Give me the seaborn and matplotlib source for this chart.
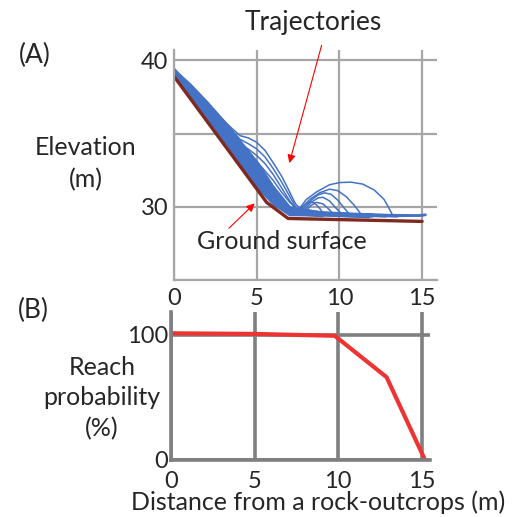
import numpy as np
import matplotlib
matplotlib.use("Agg")
import matplotlib.pyplot as plt
import pandas as pd
import seaborn as sns

# ground profile of the slope (m)
ground_x = [0, 5.6, 6.9, 15.0]
ground_y = [38.9, 30.3, 29.2, 29.0]

# rolling trajectories along the slope (dense band)
band_x = [
    [0, 1, 2, 3, 4, 5, 6, 7, 8, 9],
    [0, 1, 2, 3, 4, 5, 6, 7, 8, 10, 11],
    [0, 1, 2, 3, 4, 5, 6, 7, 8, 9.5, 12],
    [0, 1, 2, 3, 4, 5, 6, 7, 8, 10, 12.5],
    [0, 1, 2, 3, 4, 5, 6, 7, 8, 11, 13.5],
    [0, 1, 2, 3, 4, 5, 6, 7, 8, 10.5, 14.8, 15.2],
    [0, 1, 2, 3, 4, 5, 6, 7, 8, 9, 11.5],
    [0, 1, 2, 3, 4, 5, 6, 7, 8, 10, 12],
    [0, 1, 2, 3, 4, 5, 6, 7, 8, 12.8],
    [0, 1, 2, 3, 4, 5, 6, 7, 8, 10.8],
    [0, 1, 2, 3, 4, 5, 6, 7, 8, 9, 11, 13.2],
    [0, 1, 2, 3, 4, 5, 6, 7, 8, 11.8],
]
band_y = [
    [39.2, 37.56, 36.03, 34.49, 32.96, 31.42, 30.21, 29.45, 29.43, 29.38],
    [39.25, 37.71, 36.23, 34.69, 33.21, 31.67, 30.36, 29.55, 29.48, 29.4, 29.36],
    [39.3, 37.86, 36.38, 34.89, 33.41, 31.92, 30.51, 29.65, 29.53, 29.45, 29.35],
    [39.35, 37.96, 36.53, 35.09, 33.61, 32.12, 30.66, 29.7, 29.58, 29.5, 29.4],
    [39.4, 38.06, 36.68, 35.24, 33.81, 32.32, 30.81, 29.75, 29.63, 29.45, 29.35],
    [39.35, 38.16, 36.83, 35.39, 33.96, 32.52, 30.96, 29.8, 29.58, 29.45, 29.4, 29.45],
    [39.3, 38.21, 36.93, 35.54, 34.11, 32.67, 31.06, 29.85, 29.68, 29.55, 29.4],
    [39.25, 38.26, 37.03, 35.69, 34.26, 32.82, 31.16, 29.9, 29.63, 29.5, 29.45],
    [39.2, 38.11, 36.88, 35.49, 34.06, 32.57, 31.01, 29.8, 29.58, 29.35],
    [39.3, 38.01, 36.63, 35.19, 33.76, 32.22, 30.76, 29.75, 29.53, 29.4],
    [39.35, 38.31, 37.13, 35.84, 34.46, 33.07, 31.36, 29.95, 29.73, 29.6, 29.5, 29.4],
    [39.25, 37.91, 36.43, 34.94, 33.46, 31.97, 30.56, 29.65, 29.48, 29.3],
]

# trajectories flying off the slope
fly_x = [
    [0, 1, 2, 3, 3.5, 4, 4.5, 5, 5.5, 6, 6.5, 6.8, 7.1, 7.35, 7.6, 9, 11],
    [0, 1, 2, 3, 4, 4.5, 5, 5.5, 6, 6.5, 7, 7.35],
    [0, 1, 2, 3, 3.5, 4, 5, 5.5, 6, 6.5, 7, 7.3],
    [0, 1, 2, 3, 4, 5, 6, 6.5, 7, 7.4],
]
fly_y = [
    [39.35, 38.3, 37.1, 35.9, 35.35, 34.85, 34.7, 34.4, 33.85, 33.0, 32.1, 31.45, 30.75, 30.2, 29.9, 29.6, 29.5],
    [39.35, 38.3, 37.1, 35.85, 34.6, 34.3, 33.95, 33.4, 32.6, 31.7, 30.7, 30.0],
    [39.3, 38.2, 36.95, 35.6, 35.0, 34.35, 33.5, 32.95, 32.2, 31.3, 30.4, 29.95],
    [39.3, 38.15, 36.9, 35.5, 34.1, 33.1, 31.8, 31.0, 30.3, 29.9],
]

# bounces on the flat part
bounce_x = [
    [7.6, 8.0, 8.6, 9.4, 10.0, 10.7, 11.4, 12.1, 12.7, 13.0, 13.25, 14.0, 15.1],
    [7.7, 8.2, 8.8, 9.4, 9.9, 10.4, 10.9, 11.3, 12.5],
    [7.8, 8.3, 8.7, 9.1, 9.5, 9.9, 10.3, 10.6],
    [7.9, 8.3, 8.7, 9.0, 9.4, 9.8, 10.1],
    [8.0, 8.3, 8.6, 9.0, 9.3, 9.6],
    [7.6, 7.9, 8.2, 8.5, 8.8, 9.0],
]
bounce_y = [
    [29.9, 30.5, 31.0, 31.5, 31.65, 31.68, 31.55, 31.15, 30.5, 29.9, 29.35, 29.35, 29.4],
    [29.9, 30.5, 30.95, 31.2, 31.1, 30.7, 30.1, 29.5, 29.4],
    [29.85, 30.45, 30.8, 30.95, 30.85, 30.45, 29.9, 29.5],
    [29.8, 30.3, 30.6, 30.65, 30.4, 29.9, 29.55],
    [29.75, 30.1, 30.3, 30.2, 29.9, 29.55],
    [29.8, 30.15, 30.35, 30.25, 29.9, 29.6],
]

# panel B: reach probability
dist = [0, 5, 9.8, 12.9, 15.2]
reach = [101, 100.5, 99, 66, 0]

xticks = [0, 5, 10, 15]

# long form table for seaborn
rows = []
k = 0
for kind, xs_list, ys_list in [("band", band_x, band_y), ("arc", fly_x, fly_y),
                               ("arc", bounce_x, bounce_y)]:
    for xs, ys in zip(xs_list, ys_list):
        for i, (a, b) in enumerate(zip(xs, ys)):
            rows.append({"traj": k, "kind": kind, "order": i, "x": a, "y": b})
        k += 1
traj = pd.DataFrame(rows)
ground = pd.DataFrame({"x": ground_x, "y": ground_y})
prob = pd.DataFrame({"x": dist, "y": reach})

sns.set_style("white")
plt.rcParams["font.family"] = ["Lato", "DejaVu Sans"]

fig = plt.figure(figsize=(5.12, 5.17), dpi=100)

# panel A
ax1 = fig.add_axes([0.3398, 0.4584, 0.5137, 0.4449])
sns.lineplot(data=traj[traj["kind"] == "band"], x="x", y="y", units="traj",
             estimator=None, sort=False, color="#4472c4", lw=2.0, ax=ax1)
sns.lineplot(data=traj[traj["kind"] == "arc"], x="x", y="y", units="traj",
             estimator=None, sort=False, color="#4472c4", lw=1.1, ax=ax1)
sns.lineplot(data=ground, x="x", y="y", color="#7f2a1e", lw=2.4, ax=ax1)
ax1.set_xlim(0, 15.9)
ax1.set_ylim(25, 40.7)
ax1.set_xticks(xticks)
ax1.set_yticks([25, 30, 35, 40])
ax1.set_yticklabels(["", "30", "", "40"])
ax1.set_xticklabels([str(t) for t in xticks])
ax1.grid(True, color="#a6a6a6", lw=1.6)
ax1.set_axisbelow(True)
for s in ["top", "right"]:
    ax1.spines[s].set_visible(False)
for s in ["left", "bottom"]:
    ax1.spines[s].set_color("#a6a6a6")
    ax1.spines[s].set_linewidth(1.6)
ax1.tick_params(axis="both", labelsize=17, length=4, width=1.4, color="#a6a6a6", pad=2)
ax1.tick_params(axis="y", pad=0)
ax1.set_xlabel("")
ax1.set_ylabel("")

ax1.annotate("", xy=(6.93, 32.8), xytext=(8.97, 41.2), annotation_clip=False,
             arrowprops=dict(arrowstyle="-|>", color="red", lw=0.8, mutation_scale=12))
ax1.annotate("", xy=(5.0, 30.36), xytext=(3.2, 28.4),
             arrowprops=dict(arrowstyle="-|>", color="red", lw=0.8, mutation_scale=12))
ax1.text(6.53, 27.6, "Ground surface", fontsize=18, ha="center", va="center")

# panel B
ax2 = fig.add_axes([0.334, 0.1103, 0.5059, 0.2863])
sns.lineplot(data=prob, x="x", y="y", color="#ee3333", lw=3, ax=ax2)
ax2.set_xlim(0, 15.5)
ax2.set_ylim(0, 118)
ax2.set_xticks(xticks)
ax2.set_yticks([0, 100])
ax2.grid(True, color="#7f7f7f", lw=2.6)
ax2.set_axisbelow(True)
for s in ["top", "right"]:
    ax2.spines[s].set_visible(False)
for s in ["left", "bottom"]:
    ax2.spines[s].set_color("#7f7f7f")
    ax2.spines[s].set_linewidth(2.6)
ax2.tick_params(axis="both", labelsize=17, length=0, pad=2)
ax2.tick_params(axis="x", pad=8)
ax2.set_xlabel("")
ax2.set_ylabel("")

# labels
fig.text(0.068, 0.892, "(A)", fontsize=19, ha="center", va="center")
fig.text(0.611, 0.957, "Trajectories", fontsize=19, ha="center", va="center")
fig.text(0.168, 0.683, "Elevation\n(m)", fontsize=18, ha="center", va="center",
         linespacing=1.45)
fig.text(0.066, 0.400, "(B)", fontsize=19, ha="center", va="center")
fig.text(0.199, 0.230, "Reach\nprobability\n(%)", fontsize=18, ha="center",
         va="center", linespacing=1.4)
fig.text(0.621, 0.029, "Distance from a rock-outcrops (m)", fontsize=18,
         ha="center", va="center")

fig.savefig("out.png", dpi=100)
